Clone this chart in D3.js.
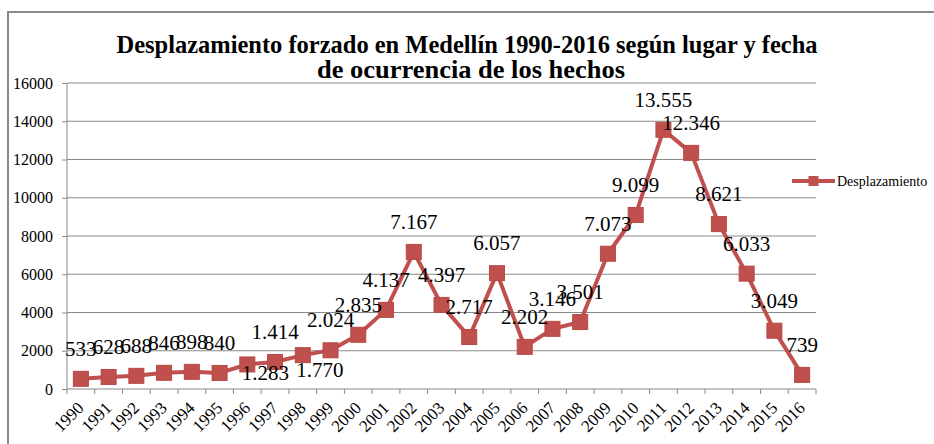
<!DOCTYPE html>
<html>
<head>
<meta charset="utf-8">
<script src="https://cdn.jsdelivr.net/npm/d3@7"></script>
<style>
  body { margin: 0; background: #fff; }
  svg { display: block; }
</style>
</head>
<body>
<div id="chart"></div>
<script>
// data
var years = ["1990","1991","1992","1993","1994","1995","1996","1997","1998","1999","2000","2001","2002","2003",
             "2004","2005","2006","2007","2008","2009","2010","2011","2012","2013","2014","2015","2016"];
var desplazamiento = [533, 628, 688, 846, 898, 840, 1283, 1414, 1770, 2024, 2835, 4137, 7167, 4397,
                      2717, 6057, 2202, 3146, 3501, 7073, 9099, 13555, 12346, 8621, 6033, 3049, 739];
var yTicks = [0, 2000, 4000, 6000, 8000, 10000, 12000, 14000, 16000];
var seriesName = "Desplazamiento";
var titleLines = ["Desplazamiento forzado en Medellín 1990-2016 según lugar y fecha",
                  "de ocurrencia de los hechos"];

var W = 934, H = 444;
var red = "#C0504D", grey = "#8a8a8a";
var serif = "'Liberation Serif', 'Times New Roman', serif";

var svg = d3.select("#chart").append("svg")
            .attr("width", W)
            .attr("height", H)
            .style("background-color", "white");

// chart border (top + left visible)
svg.append("path")
   .attr("d", "M8,446 L8,12 L934,12")
   .attr("fill", "none")
   .attr("stroke", grey)
   .attr("stroke-width", 2);

// title, squeezed horizontally like the original
svg.append("text")
   .attr("x", 467).attr("y", 53)
   .attr("text-anchor", "middle")
   .attr("font-family", serif)
   .attr("font-weight", "bold")
   .attr("font-size", "26px")
   .attr("textLength", 701)
   .attr("lengthAdjust", "spacingAndGlyphs")
   .text(titleLines[0]);
svg.append("text")
   .attr("x", 471).attr("y", 78)
   .attr("text-anchor", "middle")
   .attr("font-family", serif)
   .attr("font-weight", "bold")
   .attr("font-size", "26px")
   .attr("textLength", 308)
   .attr("lengthAdjust", "spacingAndGlyphs")
   .text(titleLines[1]);

var pLeft = 67, pRight = 816, pTop = 83, pBottom = 389;

var x = d3.scaleBand()
          .domain(years)
          .range([pLeft, pRight]);

var y = d3.scaleLinear()
          .domain([0, 16000])
          .range([pBottom, pTop]);

// gridlines
svg.append("g")
   .selectAll("line")
   .data(yTicks.filter(function(d) { return d > 0; }))
   .enter().append("line")
   .attr("x1", pLeft).attr("x2", pRight)
   .attr("y1", function(d) { return y(d); })
   .attr("y2", function(d) { return y(d); })
   .attr("stroke", grey)
   .attr("stroke-width", 1);

// y axis
var yAxis = svg.append("g")
   .attr("transform", "translate(" + pLeft + ",0)")
   .call(d3.axisLeft(y).tickValues(yTicks).tickSize(5).tickPadding(9).tickFormat(d3.format("d")));
yAxis.selectAll("path, line").attr("stroke", grey);
yAxis.select(".domain").attr("d", "M0," + pTop + "V" + pBottom);
yAxis.selectAll("text")
     .attr("font-family", serif)
     .attr("font-size", "16px")
     .attr("fill", "#000");

// x axis
var xAxis = svg.append("g")
   .attr("transform", "translate(0," + pBottom + ")")
   .call(d3.axisBottom(x).tickSize(0).tickFormat(""));
xAxis.select(".domain").attr("d", "M" + pLeft + ",0H" + pRight).attr("stroke", grey);
xAxis.selectAll(".tick").remove();
xAxis.selectAll("line.sep")
     .data(d3.range(years.length + 1))
     .enter().append("line")
     .attr("class", "sep")
     .attr("x1", function(i) { return pLeft + i * x.step(); })
     .attr("x2", function(i) { return pLeft + i * x.step(); })
     .attr("y1", 0).attr("y2", 5)
     .attr("stroke", grey);
xAxis.selectAll("text.yr")
     .data(years)
     .enter().append("text")
     .attr("class", "yr")
     .attr("transform", function(d) {
        return "translate(" + (x(d) + x.bandwidth() / 2 + 4) + ",20) rotate(-45)";
     })
     .attr("text-anchor", "end")
     .attr("font-family", serif)
     .attr("font-size", "17px")
     .attr("fill", "#000")
     .text(function(d) { return d; });

// line + markers
var pts = years.map(function(yr, i) { return { year: yr, value: desplazamiento[i] }; });
var cx = function(d) { return x(d.year) + x.bandwidth() / 2; };

svg.append("path")
   .datum(pts)
   .attr("fill", "none")
   .attr("stroke", red)
   .attr("stroke-width", 4)
   .attr("stroke-linejoin", "round")
   .attr("d", d3.line().x(cx).y(function(d) { return y(d.value); }));

svg.append("g")
   .selectAll("rect")
   .data(pts)
   .enter().append("rect")
   .attr("x", function(d) { return cx(d) - 7.5; })
   .attr("y", function(d) { return y(d.value) - 7.5; })
   .attr("width", 15).attr("height", 15)
   .attr("fill", red)
   .attr("stroke", "#b84945")
   .attr("stroke-width", 1);

// data labels (spanish format: dot for thousands)
var esFmt = d3.formatLocale({ decimal: ",", thousands: ".", grouping: [3], currency: ["$", ""] }).format(",d");
var below = { "1996": [18, 16], "1998": [17, 22] };

svg.append("g")
   .selectAll("text")
   .data(pts)
   .enter().append("text")
   .attr("x", function(d) { return cx(d) + (below[d.year] ? below[d.year][0] : 0); })
   .attr("y", function(d) { return y(d.value) + (below[d.year] ? below[d.year][1] : -23); })
   .attr("text-anchor", "middle")
   .attr("font-family", serif)
   .attr("font-size", "21px")
   .attr("fill", "#000")
   .text(function(d) { return esFmt(d.value); });

// legend
var lg = svg.append("g").attr("transform", "translate(792,181)");
lg.append("line")
  .attr("x1", 0).attr("x2", 43).attr("y1", 0).attr("y2", 0)
  .attr("stroke", red).attr("stroke-width", 4);
lg.append("rect")
  .attr("x", 16.5).attr("y", -5).attr("width", 10).attr("height", 10)
  .attr("fill", red);
lg.append("text")
  .attr("x", 45).attr("y", 5)
  .attr("font-family", serif)
  .attr("font-size", "14px")
  .attr("fill", "#000")
  .text(seriesName);
</script>
</body>
</html>
